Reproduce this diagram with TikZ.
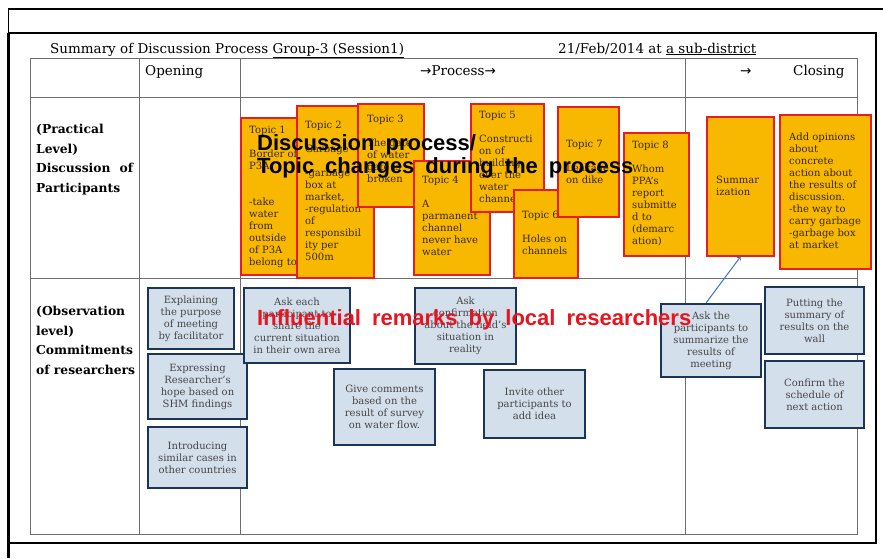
\documentclass[tikz,border=0pt]{standalone}
\usepackage{fontspec}
\setmainfont{DejaVu Serif}
\newfontfamily\arrowfont{DejaVu Sans}
\newfontfamily\remarkfont[WordSpace=1.8]{Liberation Sans}
\usepackage{tikz}
\definecolor{topicfill}{RGB}{248,184,0}
\definecolor{topicline}{RGB}{232,28,36}
\definecolor{topicink}{RGB}{55,40,15}
\definecolor{actfill}{RGB}{212,223,236}
\definecolor{actline}{RGB}{28,52,88}
\definecolor{actink}{RGB}{70,70,70}
\definecolor{gridgray}{RGB}{110,110,110}
\definecolor{remarkred}{RGB}{232,20,30}
\definecolor{linkblue}{RGB}{60,115,190}
\tikzset{
  topicbox/.style={draw=topicline, fill=topicfill, line width=1.8pt, inner sep=0pt, anchor=north west},
  topictext/.style={anchor=north west, inner sep=0pt, align=left, text=topicink, font=\fontsize{10}{12}\selectfont},
  actbox/.style={draw=actline, fill=actfill, line width=2pt, inner sep=0pt, anchor=north west, align=center, text=actink, font=\fontsize{10}{12}\selectfont},
  rowlabel/.style={anchor=north west, inner sep=0pt, align=left, font=\fontsize{12.3}{19.5}\selectfont\bfseries},
  headtext/.style={anchor=base west, inner sep=0pt, font=\fontsize{13.5}{16}\selectfont},
  overlay/.style={anchor=base west, inner sep=0pt, font=\remarkfont\bfseries\fontsize{22}{24}\selectfont},
}

\begin{document}
\begin{tikzpicture}[x=1pt,y=-1pt]
		\useasboundingbox (0,0) rectangle (883,558);
		\fill[white] (0,0) rectangle (883,558);
		\draw[line width=2.5pt] (8,9) -- (883,9);
		\draw[line width=1pt] (8,9) -- (8,33);
		\draw[line width=1.5pt] (8,33) -- (876,33) -- (876,543) -- (8,543);
		\draw[line width=3pt] (8,33) -- (8,558);
		\draw[gridgray, line width=1pt] (30,58) rectangle (857,534);
		\draw[gridgray, line width=1pt] (30,97) -- (857,97);
		\draw[gridgray, line width=1pt] (30,278) -- (857,278);
		\draw[gridgray, line width=1pt] (139,58) -- (139,534);
		\draw[gridgray, line width=1pt] (240,58) -- (240,534);
		\draw[gridgray, line width=1pt] (685,58) -- (685,534);

		\node[headtext] (title) at (50,53) {Summary of Discussion Process \underline{Group-3 (Session1)}};
		\node[headtext] (date) at (558,53) {21/Feb/2014 at \underline{a sub-district}};
		\node[headtext] (hopen) at (145,75) {Opening};
		\node[headtext] (hproc) at (420,75) {{\arrowfont →}Process{\arrowfont →}};
		\node[headtext] (harrow) at (740,75) {{\arrowfont →}};
		\node[headtext] (hclose) at (793,75) {Closing};
		\node[rowlabel] (rowprac) at (36,124) {(Practical\\Level)\\\makebox[97pt][s]{Discussion of}\\Participants};
		\node[rowlabel] (rowobs) at (36,306) {(Observation\\level)\\Commitments\\of researchers};

		\node[topicbox, minimum width=62pt, minimum height=157pt] (tp1) at (240,117) {};
		\node[topictext] (tp1txt) at (249,125.5) {Topic 1\\[12pt]Border of\\P3A\\[24pt]-take\\water\\from\\outside\\of P3A\\belong to};
		\node[topicbox, minimum width=77pt, minimum height=172pt] (tp2) at (296,105) {};
		\node[topictext] (tp2txt) at (305,120.5) {Topic 2\\[12pt]Garbage\\[12pt]-garbage\\box at\\market,\\-regulation\\of\\responsibil\\ity per\\500m};
		\node[topicbox, minimum width=66pt, minimum height=103pt] (tp3) at (357,103) {};
		\node[topictext] (tp3txt) at (367,114.5) {Topic 3\\[12pt]The gate\\of water\\gate is\\broken};
		\node[topicbox, minimum width=76pt, minimum height=114pt] (tp4) at (413,160) {};
		\node[topictext] (tp4txt) at (422,175.5) {Topic 4\\[12pt]A\\parmanent\\channel\\never have\\water};
		\node[topicbox, minimum width=73pt, minimum height=108pt] (tp5) at (470,103) {};
		\node[topictext] (tp5txt) at (479,110.5) {Topic 5\\[12pt]Constructi\\on of\\building\\over the\\water\\channel};
		\node[topicbox, minimum width=64pt, minimum height=88pt] (tp6) at (513,189) {};
		\node[topictext] (tp6txt) at (522,210.5) {Topic 6\\[12pt]Holes on\\channels};
		\node[topicbox, minimum width=61pt, minimum height=110pt] (tp7) at (557,106) {};
		\node[topictext] (tp7txt) at (566,139.5) {Topic 7\\[12pt]Leakage\\on dike};
		\node[topicbox, minimum width=65pt, minimum height=123pt] (tp8) at (623,132) {};
		\node[topictext] (tp8txt) at (632,140.5) {Topic 8\\[12pt]Whom\\PPA's\\report\\submitte\\d to\\(demarc\\ation)};
		\node[topicbox, minimum width=67pt, minimum height=139pt] (tpsum) at (706,116) {};
		\node[topictext] (tpsumtxt) at (716,176) {Summar\\ization};
		\node[topicbox, minimum width=91pt, minimum height=154pt] (tpadd) at (779,114) {};
		\node[topictext] (tpaddtxt) at (789,133) {Add opinions\\about\\concrete\\action about\\the results of\\discussion.\\-the way to\\carry garbage\\-garbage box\\at market};

		\node[actbox, minimum width=86pt, minimum height=61pt] (rs1) at (147,287) {Explaining\\the purpose\\of meeting\\by facilitator};
		\node[actbox, minimum width=99pt, minimum height=65pt] (rs2) at (147,353) {Expressing\\Researcher's\\hope based on\\SHM findings};
		\node[actbox, minimum width=99pt, minimum height=61pt] (rs3) at (147,426) {Introducing\\similar cases in\\other countries};
		\node[actbox, minimum width=106pt, minimum height=75pt] (rs4) at (243,287) {Ask each\\participant to\\share the\\current situation\\in their own area};
		\node[actbox, minimum width=101pt, minimum height=76pt] (rs5) at (333,368) {Give comments\\based on the\\result of survey\\on water flow.};
		\node[actbox, minimum width=101pt, minimum height=76pt] (rs6) at (414,287) {Ask\\confirmation\\about the field's\\situation in\\reality};
		\node[actbox, minimum width=101pt, minimum height=68pt] (rs7) at (483,369) {Invite other\\participants to\\add idea};
		\node[actbox, minimum width=100pt, minimum height=73pt] (rs8) at (660,303) {Ask the\\participants to\\summarize the\\results of\\meeting};
		\node[actbox, minimum width=99pt, minimum height=67pt] (rs9) at (764,286) {Putting the\\summary of\\results on the\\wall};
		\node[actbox, minimum width=99pt, minimum height=67pt] (rs10) at (764,360) {Confirm the\\schedule of\\next action};

		\draw[linkblue, line width=1pt, ->] ([xshift=-5pt]rs8.north) -- (tpsum.south);

		\node[overlay] (discuss) at (257,150) {Discussion process/};
		\node[overlay] (changes) at (257,173) {Topic changes during the process};
		\node[overlay, text=remarkred] (remarks) at (257,325) {Influential remarks by local researchers};
\end{tikzpicture}
\end{document}
